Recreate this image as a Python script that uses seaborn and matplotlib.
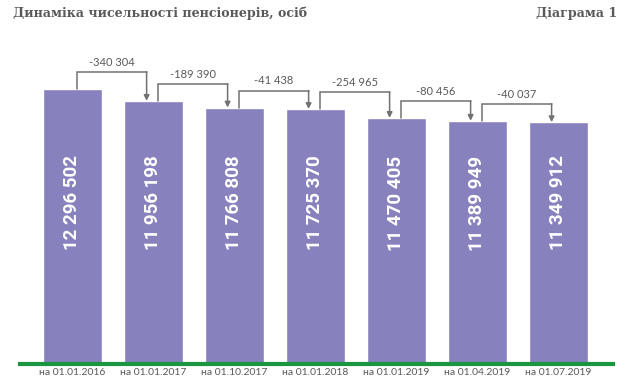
import numpy as np
import seaborn as sns
import matplotlib.pyplot as plt
import matplotlib.transforms as mtransforms

dates = ['на 01.01.2016', 'на 01.01.2017', 'на 01.10.2017', 'на 01.01.2018',
         'на 01.01.2019', 'на 01.04.2019', 'на 01.07.2019']
pensioners = [12296502, 11956198, 11766808, 11725370, 11470405, 11389949, 11349912]

title = 'Динаміка чисельності пенсіонерів, осіб'
chart_no = 'Діаграма 1'

BAR = '#8781bd'
GREEN = '#1b9640'
TEXT = '#595959'
LINE = '#717171'
LIGHT = ['Lato', 'DejaVu Sans']
BOLD = ['Roboto', 'DejaVu Sans']
SLAB = ['DejaVu Serif']


def fmt(v):
    return f'{v:,}'.replace(',', ' ')


sns.set_style('white')
fig = plt.figure(figsize=(6.35, 3.85), dpi=100)
ax = fig.add_axes([20 / 635, 1 - 364 / 385, 593 / 635, 324 / 385])

sns.barplot(x=dates, y=pensioners, color=BAR, saturation=1, width=0.73, ax=ax)

ax.set_xlim(-0.648, 6.673)
ax.set_ylim(4.468e6, 13.688e6)
ax.set_yticks([])
ax.set_ylabel('')
for s in ['top', 'left', 'right']:
    ax.spines[s].set_visible(False)
ax.spines['bottom'].set_color(GREEN)
ax.spines['bottom'].set_linewidth(3)
ax.tick_params(axis='x', length=0, pad=3, labelsize=7.5, labelcolor=TEXT)
for lab in ax.get_xticklabels():
    lab.set_family(LIGHT)

# values inside the bars
trans = mtransforms.blended_transform_factory(ax.transData, ax.transAxes)
for i, v in enumerate(pensioners):
    ax.text(i, 0.497, fmt(v), transform=trans, rotation=90, ha='center', va='center',
            color='white', fontsize=13.5, fontweight='bold', family=BOLD)

# change brackets between neighbouring bars
diffs = np.diff(pensioners)
lift = 0.484e6
for i, d in enumerate(diffs):
    x0, x1 = i + 0.06, i + 1 - 0.085
    y0, y1 = pensioners[i], pensioners[i + 1]
    yb = y0 + lift
    ax.plot([x0, x0, x1], [y0, yb, yb], color=LINE, lw=1.1, solid_joinstyle='miter')
    ax.annotate('', xy=(x1, y1), xytext=(x1, yb),
                arrowprops=dict(arrowstyle='-|>', color=LINE, lw=1.1,
                                mutation_scale=8, shrinkA=0, shrinkB=0))
    ax.annotate(fmt(d), xy=((x0 + x1) / 2, yb), xytext=(0, 7),
                textcoords='offset points', ha='center', va='center',
                fontsize=8, color=TEXT, family=LIGHT)

fig.text(13 / 635, 1 - 17.5 / 385, title, ha='left', va='baseline',
         fontsize=9.1, fontweight='bold', color=TEXT, family=SLAB)
fig.text(617 / 635, 1 - 17.5 / 385, chart_no, ha='right', va='baseline',
         fontsize=9.1, fontweight='bold', color=TEXT, family=SLAB)

fig.savefig('out.png', dpi=100)
